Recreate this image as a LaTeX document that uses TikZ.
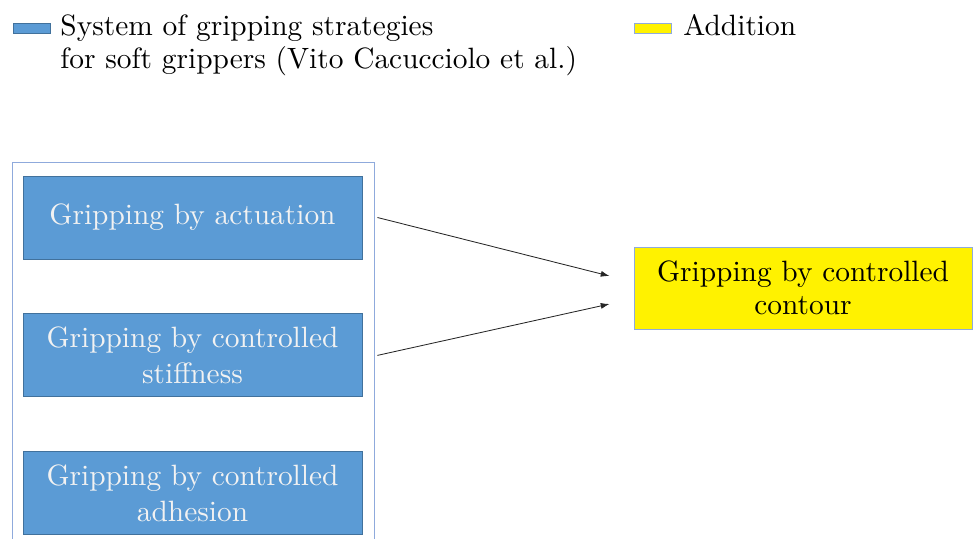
\documentclass[tikz,border=0pt]{standalone}
\usepackage{fontspec}
\setmainfont{lmroman10}[Extension=.otf,UprightFont=*-regular]
\usetikzlibrary{positioning,calc,arrows.meta}
\definecolor{stratfill}{HTML}{5B9BD5}
\definecolor{stratline}{HTML}{41719C}
\definecolor{frameline}{HTML}{8FAADC}

\begin{document}
\begin{tikzpicture}[x=0.025cm,y=-0.025cm,-{Latex[length=2.2mm,width=1.5mm]},
node distance=1.35cm,semithick,
strategy/.style={rectangle,draw=stratline,fill=stratfill,text=white!95!black,
  minimum width=8.475cm,minimum height=2.075cm,align=center,
  font=\fontsize{20.9}{26}\selectfont},
addition/.style={rectangle,draw=frameline,fill=yellow,
  minimum width=8.45cm,minimum height=2.05cm,align=center,
  font=\fontsize{20.9}{23.5}\selectfont},
key/.style={rectangle,minimum width=0.925cm,minimum height=0.25cm,inner sep=0pt},
keytext/.style={inner sep=0pt,align=left,font=\fontsize{20.9}{23.5}\selectfont}
]
\useasboundingbox (0,0) rectangle (973,539);
% legend
\node[key,fill=stratfill,draw=stratline] (keysys) at (31.5,28) {};
\node[keytext,anchor=north west] (sys) at (60,14.6)
    {System of gripping strategies\\for soft grippers (Vito Cacucciolo et al.)};
\node[key,fill=yellow,draw=frameline] (keyadd) at (653,28) {};
\node[keytext,anchor=base west] (add) at (683,35) {Addition};
% strategies
\draw[-,frameline] (12,539) |- (374,162) -- (374,539);
\node[strategy] (act) at (192.5,217.5) {Gripping by actuation};
\node[strategy] (stiff) [below=of act] {Gripping by controlled\\stiffness};
\node[strategy] (adhes) [below=of stiff] {Gripping by controlled\\adhesion};
\node[addition] (contour) at (803,288) {Gripping by controlled\\contour};
\draw[black!85] ($(act.east)+(15,0)$) -- ($(contour.west)+(-24,-12)$);
\draw[black!85] ($(stiff.east)+(15,0)$) -- ($(contour.west)+(-24,16)$);
\end{tikzpicture}
\end{document}
